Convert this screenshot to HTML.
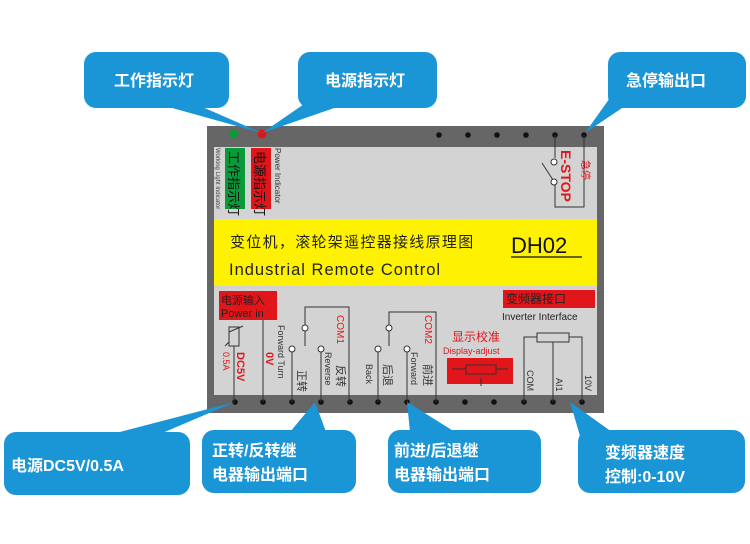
<!DOCTYPE html>
<html><head><meta charset="utf-8"><style>
body{margin:0;background:#fff}
svg{display:block}
.c{font-family:"Liberation Sans","Noto Sans CJK SC",sans-serif}
</style></head><body>
<svg width="750" height="544" viewBox="0 0 750 544" class="c">
<rect width="750" height="544" fill="#fff"/>
<rect x="207" y="126" width="397" height="287" fill="#666"/>
<rect x="214" y="147" width="383" height="248" fill="#d3d3d3"/>
<rect x="214" y="219" width="383" height="67" fill="#fff200"/>
<circle cx="234" cy="134" r="4.5" fill="#0a9a3a"/>
<circle cx="262" cy="134" r="4.5" fill="#e0161b"/>
<g fill="#111"><circle cx="439" cy="135" r="2.8"/><circle cx="468" cy="135" r="2.8"/><circle cx="497" cy="135" r="2.8"/><circle cx="526" cy="135" r="2.8"/><circle cx="555" cy="135" r="2.8"/><circle cx="584" cy="135" r="2.8"/></g>
<g fill="#111"><circle cx="235" cy="402" r="2.8"/><circle cx="263" cy="402" r="2.8"/><circle cx="292" cy="402" r="2.8"/><circle cx="321" cy="402" r="2.8"/><circle cx="350" cy="402" r="2.8"/><circle cx="378" cy="402" r="2.8"/><circle cx="407" cy="402" r="2.8"/><circle cx="436" cy="402" r="2.8"/><circle cx="465" cy="402" r="2.8"/><circle cx="494" cy="402" r="2.8"/><circle cx="524" cy="402" r="2.8"/><circle cx="553" cy="402" r="2.8"/><circle cx="582" cy="402" r="2.8"/></g>
<rect x="225" y="148" width="20" height="61" fill="#0a9a3a"/>
<text transform="translate(229,151) rotate(90)" font-size="13" fill="#111">工作指示灯</text>
<rect x="251" y="148" width="20" height="61" fill="#e0161b"/>
<text transform="translate(255,151) rotate(90)" font-size="13" fill="#111">电源指示灯</text>
<text transform="translate(216,148) rotate(90)" font-size="6" fill="#444">Working Light Indicator</text>
<text transform="translate(275,148) rotate(90)" font-size="8" fill="#333">Power Indicator</text>
<g stroke="#333" stroke-width="1" fill="none"><path d="M555 135V158M555 184V207H584V135"/><line x1="542" y1="163" x2="553" y2="180"/></g>
<circle cx="554" cy="162" r="3" fill="#fff" stroke="#333"/><circle cx="554" cy="182" r="3" fill="#fff" stroke="#333"/>
<text transform="translate(561,150) rotate(90)" font-size="14" font-weight="bold" fill="#e0161b" font-family="Liberation Sans">E-STOP</text>
<text transform="translate(582,160) rotate(90)" font-size="10" fill="#e0161b">急停</text>
<text x="230" y="247" font-size="15" fill="#222" letter-spacing="1.3">变位机，滚轮架遥控器接线原理图</text>
<text x="511" y="253" font-size="22" fill="#111" font-family="Liberation Sans">DH02</text>
<line x1="511" y1="257" x2="582" y2="257" stroke="#111" stroke-width="1.2"/>
<text x="229" y="275" font-size="16.5" fill="#222" font-family="Liberation Sans" letter-spacing="1">Industrial Remote Control</text>
<rect x="219" y="291" width="58" height="29" fill="#e0161b"/>
<text x="221" y="304" font-size="11" fill="#222">电源输入</text>
<text x="221" y="317" font-size="11" fill="#222" font-family="Liberation Sans">Power in</text>
<g stroke="#333" fill="none"><rect x="229" y="327" width="10" height="19"/><path d="M225 346L229 342V332L243 326"/><line x1="234" y1="346" x2="234" y2="402"/><line x1="263" y1="320" x2="263" y2="402"/></g>
<text transform="translate(223,352) rotate(90)" font-size="9" fill="#e0161b">0.5A</text>
<text transform="translate(237,352) rotate(90)" font-size="11" font-weight="bold" fill="#e0161b" font-family="Liberation Sans">DC5V</text>
<text transform="translate(266,352) rotate(90)" font-size="11" font-weight="bold" fill="#e0161b" font-family="Liberation Sans">0V</text>
<g stroke="#333" fill="none"><path d="M305 325V307H349V402M305 330V346M292 352V402M321 352V402"/></g>
<circle cx="305" cy="328" r="3" fill="#fff" stroke="#333"/><circle cx="292" cy="349" r="3" fill="#fff" stroke="#333"/><circle cx="321" cy="349" r="3" fill="#fff" stroke="#333"/>
<text transform="translate(337,315) rotate(90)" font-size="10" fill="#e0161b" font-family="Liberation Sans">COM1</text>
<text transform="translate(278,325) rotate(90)" font-size="9" fill="#333" font-family="Liberation Sans">Forward Turn</text>
<text transform="translate(325,352) rotate(90)" font-size="9" fill="#333" font-family="Liberation Sans">Reverse</text>
<text transform="translate(298,370) rotate(90)" font-size="11" fill="#333">正转</text>
<text transform="translate(337,365) rotate(90)" font-size="11" fill="#333">反转</text>
<g stroke="#333" fill="none"><path d="M389 325V312H436V402M389 330V346M378 352V402M407 352V402"/></g>
<circle cx="389" cy="328" r="3" fill="#fff" stroke="#333"/><circle cx="378" cy="349" r="3" fill="#fff" stroke="#333"/><circle cx="407" cy="349" r="3" fill="#fff" stroke="#333"/>
<text transform="translate(425,315) rotate(90)" font-size="10" fill="#e0161b" font-family="Liberation Sans">COM2</text>
<text transform="translate(366,364) rotate(90)" font-size="9" fill="#333" font-family="Liberation Sans">Back</text>
<text transform="translate(411,352) rotate(90)" font-size="9" fill="#333" font-family="Liberation Sans">Forward</text>
<text transform="translate(384,364) rotate(90)" font-size="11" fill="#333">后退</text>
<text transform="translate(424,364) rotate(90)" font-size="11" fill="#333">前进</text>
<text x="452" y="341" font-size="12" fill="#e0161b">显示校准</text>
<text x="443" y="354" font-size="9" fill="#e0161b" font-family="Liberation Sans">Display-adjust</text>
<rect x="447" y="358" width="66" height="26" fill="#e0161b"/>
<g stroke="#333" fill="none"><rect x="466" y="365" width="30" height="9"/><line x1="452" y1="369" x2="466" y2="369"/><line x1="496" y1="369" x2="508" y2="369"/><line x1="481" y1="378" x2="481" y2="386"/></g>
<rect x="503" y="290" width="92" height="18" fill="#e0161b"/>
<text x="506" y="303" font-size="12" fill="#222">变频器接口</text>
<text x="502" y="320" font-size="10" fill="#222" font-family="Liberation Sans">Inverter Interface</text>
<g stroke="#333" fill="none"><rect x="537" y="333" width="32" height="9"/><path d="M537 337H524V402M569 337H582V402M553 342V402"/></g>
<text transform="translate(527,370) rotate(90)" font-size="9" fill="#333" font-family="Liberation Sans">COM</text>
<text transform="translate(556,378) rotate(90)" font-size="9" fill="#333" font-family="Liberation Sans">AI1</text>
<text transform="translate(585,375) rotate(90)" font-size="9" fill="#333" font-family="Liberation Sans">10V</text>
<g fill="#1a95d6">
<rect x="84" y="52" width="145" height="56" rx="12"/><polygon points="165,106 200,106 262,133"/>
<rect x="298" y="52" width="139" height="56" rx="12"/><polygon points="310,100 340,106 262,133"/>
<rect x="608" y="52" width="138" height="56" rx="12"/><polygon points="612,95 625,106 585,133"/>
<rect x="4" y="432" width="186" height="63" rx="12"/><polygon points="112,434 160,434 235,402"/>
<rect x="202" y="430" width="154" height="63" rx="12"/><polygon points="290,432 326,432 315,402"/>
<rect x="388" y="430" width="153" height="63" rx="12"/><polygon points="410,432 455,432 407,402"/>
<rect x="578" y="430" width="167" height="63" rx="12"/><polygon points="580,436 612,432 570,402"/>
</g>
<g fill="#fff" font-weight="bold" font-size="16">
<text x="114" y="86">工作指示灯</text>
<text x="325" y="86">电源指示灯</text>
<text x="626" y="86">急停输出口</text>
<text x="11" y="471" font-family="Liberation Sans,Noto Sans CJK SC">电源DC5V/0.5A</text>
<text x="212" y="456">正转/反转继</text>
<text x="212" y="480">电器输出端口</text>
<text x="394" y="456">前进/后退继</text>
<text x="394" y="480">电器输出端口</text>
<text x="605" y="458">变频器速度</text>
<text x="605" y="482">控制:0-10V</text>
</g>
</svg>
</body></html>
